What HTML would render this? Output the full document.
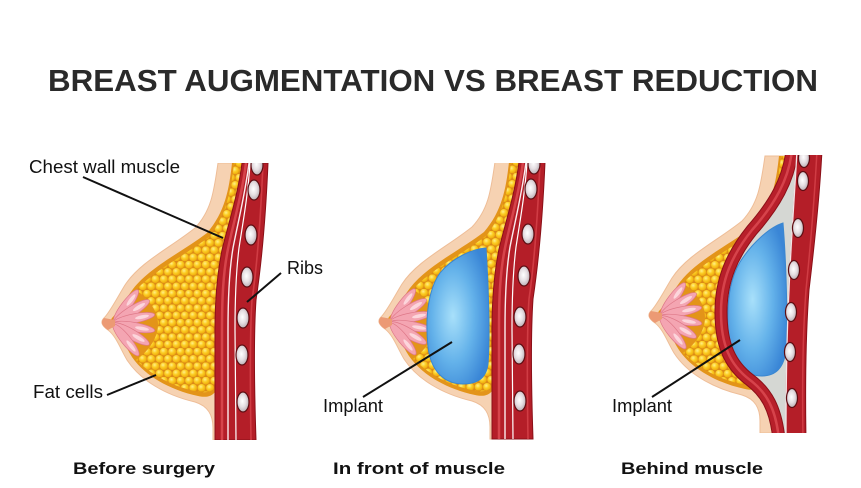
<!DOCTYPE html>
<html><head><meta charset="utf-8"><style>
html,body{margin:0;padding:0;background:#fff;}
svg{display:block;}
</style></head><body>
<svg width="861" height="488" viewBox="0 0 861 488" xmlns="http://www.w3.org/2000/svg" xmlns:xlink="http://www.w3.org/1999/xlink">
<defs>
 <radialGradient id="cellg" cx="0.4" cy="0.35" r="0.65">
  <stop offset="0" stop-color="#fff08a"/>
  <stop offset="0.5" stop-color="#fcce24"/>
  <stop offset="1" stop-color="#eeaa0e"/>
 </radialGradient>
 <pattern id="cells" patternUnits="userSpaceOnUse" width="8.4" height="14.5" x="0" y="0">
  <rect width="8.4" height="14.5" fill="#dc8a16"/>
  <circle cx="4.2" cy="3.6" r="3.9" fill="url(#cellg)"/>
  <circle cx="0" cy="10.85" r="3.9" fill="url(#cellg)"/>
  <circle cx="8.4" cy="10.85" r="3.9" fill="url(#cellg)"/>
 </pattern>
 <radialGradient id="ribg" cx="0.45" cy="0.45" r="0.6">
  <stop offset="0" stop-color="#ffffff"/>
  <stop offset="0.5" stop-color="#e6dfe3"/>
  <stop offset="1" stop-color="#b3a8ae"/>
 </radialGradient>
 <radialGradient id="impg" cx="0.42" cy="0.5" r="0.62">
  <stop offset="0" stop-color="#a8e0fa"/>
  <stop offset="0.55" stop-color="#64b2ea"/>
  <stop offset="1" stop-color="#3a86d6"/>
 </radialGradient>
 <clipPath id="clipA"><rect x="0" y="163" width="861" height="277"/></clipPath>
 <clipPath id="clipB"><rect x="0" y="155" width="861" height="278"/></clipPath>

 <g id="base">
  <path d="M 218 163 C 214 190, 212 210, 195 228 C 170 248, 140 262, 125 285 C 117 298, 110 312, 104 318 C 100 322, 102 326, 108 330 C 116 336, 120 348, 127 360 C 140 380, 165 395, 195 402 C 208 406, 213 415, 213 428 L 213 440 L 245 440 L 245 163 Z" fill="#f6d2b2" stroke="#eebd97" stroke-width="1"/>
  <path d="M 232 163 C 229 190, 225 212, 207 233 C 182 252, 150 267, 133 289 C 125 300, 118 312, 112 318 C 109 322, 110 325, 113 328 C 121 334, 125 346, 132 357 C 145 376, 170 390, 198 396 C 207 398, 212 396, 215 392 L 215 330 C 215 300, 217 275, 222 250 C 228 225, 238 195, 242 163 Z" fill="#e39419"/>
  <path d="M 234 163 C 231 190, 227 213, 210 236 C 186 255, 156 269, 136 290 C 150 300, 158 312, 158 324 C 158 337, 150 350, 136 360 C 153 376, 175 388, 200 392 C 208 393, 212 391, 215 388 L 215 330 C 215 300, 217 275, 222 250 C 228 225, 238 195, 242 163 Z" fill="url(#cells)"/>
  <g fill="#f4a5b2" stroke="#de7888" stroke-width="0.7">
   <ellipse cx="126" cy="306" rx="20" ry="4.8" transform="rotate(-53 126 306)"/>
   <ellipse cx="131.5" cy="311.5" rx="21" ry="5" transform="rotate(-32 131.5 311.5)"/>
   <ellipse cx="134" cy="318.5" rx="21" ry="4.6" transform="rotate(-11 134 318.5)"/>
   <ellipse cx="134" cy="327" rx="21" ry="4.6" transform="rotate(10 134 327)"/>
   <ellipse cx="131" cy="334" rx="21" ry="5" transform="rotate(30 131 334)"/>
   <ellipse cx="126" cy="340" rx="20" ry="4.8" transform="rotate(51 126 340)"/>
  </g>
  <g fill="#fcd6dc">
   <ellipse cx="131" cy="300" rx="7" ry="1.8" transform="rotate(-53 131 300)"/>
   <ellipse cx="139" cy="307" rx="7" ry="1.9" transform="rotate(-32 139 307)"/>
   <ellipse cx="142" cy="317" rx="7" ry="1.8" transform="rotate(-11 142 317)"/>
   <ellipse cx="142" cy="328.5" rx="7" ry="1.8" transform="rotate(10 142 328.5)"/>
   <ellipse cx="138.5" cy="338" rx="7" ry="1.9" transform="rotate(30 138.5 338)"/>
   <ellipse cx="131" cy="346" rx="7" ry="1.8" transform="rotate(51 131 346)"/>
  </g>
  <path d="M 104 318 C 100 322, 102 326, 108 330 L 115 326 L 115 320 Z" fill="#ec9a74"/>
 </g>

 <g id="col12">
  <path d="M 242 163 L 268 163 C 266 210, 262 260, 256 300 C 254 330, 254 380, 256 440 L 215 440 L 215 330 C 215 300, 217 275, 222 250 C 228 225, 238 195, 242 163 Z" fill="#b41e28" stroke="#8a1018" stroke-width="1"/>
  <path d="M 246 163 C 242 195, 233 224, 228 249 C 223 273, 222 300, 222 330 L 222 440" stroke="#d6444b" stroke-width="2.5" fill="none"/>
  <path d="M 263 163 C 261 210, 258 260, 252 300 C 250 330, 250 380, 251 440" stroke="#d03c44" stroke-width="1.6" fill="none"/>
  <path d="M 249 163 C 245 195, 238 222, 233 248 C 229 272, 228 300, 228 330 L 228 440" stroke="#fbecee" stroke-width="1.4" fill="none"/>
  <path d="M 250 163 C 248 195, 243 222, 239 248 C 236 272, 235 300, 235 330 L 236 440" stroke="#ffffff" stroke-width="1.2" fill="none"/>
  <g fill="url(#ribg)" stroke="#5e0d12" stroke-width="1.2">
   <ellipse cx="257" cy="165" rx="6" ry="10"/>
   <ellipse cx="254" cy="190" rx="6" ry="10"/>
   <ellipse cx="251" cy="235" rx="6" ry="10"/>
   <ellipse cx="247" cy="277" rx="6" ry="10"/>
   <ellipse cx="243" cy="318" rx="6" ry="10"/>
   <ellipse cx="242" cy="355" rx="6" ry="10"/>
   <ellipse cx="243" cy="402" rx="6" ry="10"/>
  </g>
 </g>
</defs>

<text x="48" y="91" font-family="Liberation Sans, Arial, sans-serif" font-weight="bold" font-size="31" fill="#2a2a2a" textLength="770" lengthAdjust="spacingAndGlyphs">BREAST AUGMENTATION VS BREAST REDUCTION</text>

<!-- Breast 1 -->
<g clip-path="url(#clipA)">
 <use xlink:href="#base" href="#base"/>
 <use xlink:href="#col12" href="#col12"/>
</g>

<!-- Breast 2 -->
<g clip-path="url(#clipA)">
 <use xlink:href="#base" href="#base" transform="translate(277,-1)"/>
 <path d="M 486 248 C 489 290, 490 340, 488 364 C 486 378, 478 384, 463 384 C 445 384, 431 372, 428 347 C 425 318, 428 290, 440 273 C 452 258, 472 249, 486 248 Z" fill="url(#impg)" stroke="#3a87d0" stroke-width="1"/>
 <use xlink:href="#col12" href="#col12" transform="translate(277,-1)"/>
</g>

<!-- Breast 3 -->
<g clip-path="url(#clipB)">
 <use xlink:href="#base" href="#base" transform="translate(547,-7)"/>
 <path d="M 790 150 C 784 188, 765 213, 748 234 C 730 258, 723 285, 723 318 C 723 350, 737 368, 756 382 C 772 395, 780 412, 783 440 L 792 440 L 797 150 Z" fill="#d5d7d3"/>
 <path d="M 783 223 C 786 260, 788 320, 786 350 C 784 368, 776 376, 762 376 C 747 376, 733 366, 729 342 C 726 312, 728 282, 740 262 C 752 243, 770 227, 783 223 Z" fill="url(#impg)" stroke="#3a87d0" stroke-width="1"/>
 <path d="M 792 150 C 789 180, 774 205, 752 230 C 732 255, 721 280, 721 312 C 721 345, 730 365, 750 380 C 766 392, 776 408, 779 440" fill="none" stroke="#8c1018" stroke-width="13"/>
 <path d="M 792 150 C 789 180, 774 205, 752 230 C 732 255, 721 280, 721 312 C 721 345, 730 365, 750 380 C 766 392, 776 408, 779 440" fill="none" stroke="#b71f2a" stroke-width="11"/>
 <path d="M 792 150 C 789 180, 774 205, 752 230 C 732 255, 721 280, 721 312 C 721 345, 730 365, 750 380 C 766 392, 776 408, 779 440" fill="none" stroke="#d6434b" stroke-width="2.5"/>
 <path d="M 797 150 L 822 150 C 820 190, 815 240, 809 290 C 806 330, 805 380, 806 440 L 786 440 C 786 380, 787 330, 789 290 C 791 240, 795 190, 797 150 Z" fill="#b41e28" stroke="#8a1018" stroke-width="1"/>
 <path d="M 797 150 C 795 190, 791 240, 789 290 C 787 330, 786 380, 786 440" fill="none" stroke="#f5e3e5" stroke-width="1.3"/>
 <path d="M 817 150 C 815 190, 811 240, 806 290 C 803 330, 802 380, 803 440" fill="none" stroke="#d03c44" stroke-width="1.5"/>
 <g fill="url(#ribg)" stroke="#5e0d12" stroke-width="1.2">
  <ellipse cx="804" cy="158" rx="5.5" ry="9.5"/>
  <ellipse cx="803" cy="181" rx="5.5" ry="9.5"/>
  <ellipse cx="798" cy="228" rx="5.5" ry="9.5"/>
  <ellipse cx="794" cy="270" rx="5.5" ry="9.5"/>
  <ellipse cx="791" cy="312" rx="5.5" ry="9.5"/>
  <ellipse cx="790" cy="352" rx="5.5" ry="9.5"/>
  <ellipse cx="792" cy="398" rx="5.5" ry="9.5"/>
 </g>
</g>

<!-- Leader lines -->
<g stroke="#111" stroke-width="2" fill="none">
 <line x1="83" y1="177" x2="223" y2="238"/>
 <line x1="247" y1="302" x2="281" y2="273"/>
 <line x1="107" y1="395" x2="156" y2="375"/>
 <line x1="363" y1="397" x2="452" y2="342"/>
 <line x1="652" y1="397" x2="740" y2="340"/>
</g>

<g font-family="Liberation Sans, Arial, sans-serif" font-size="18" fill="#111">
 <text x="29" y="173" textLength="151" lengthAdjust="spacingAndGlyphs">Chest wall muscle</text>
 <text x="287" y="274">Ribs</text>
 <text x="33" y="398" textLength="70" lengthAdjust="spacingAndGlyphs">Fat cells</text>
 <text x="323" y="412" textLength="60" lengthAdjust="spacingAndGlyphs">Implant</text>
 <text x="612" y="412" textLength="60" lengthAdjust="spacingAndGlyphs">Implant</text>
</g>

<g font-family="Liberation Sans, Arial, sans-serif" font-size="17" font-weight="bold" fill="#111">
 <text x="73" y="474" textLength="142" lengthAdjust="spacingAndGlyphs">Before surgery</text>
 <text x="333" y="474" textLength="172" lengthAdjust="spacingAndGlyphs">In front of muscle</text>
 <text x="621" y="474" textLength="142" lengthAdjust="spacingAndGlyphs">Behind muscle</text>
</g>
</svg>
</body></html>
